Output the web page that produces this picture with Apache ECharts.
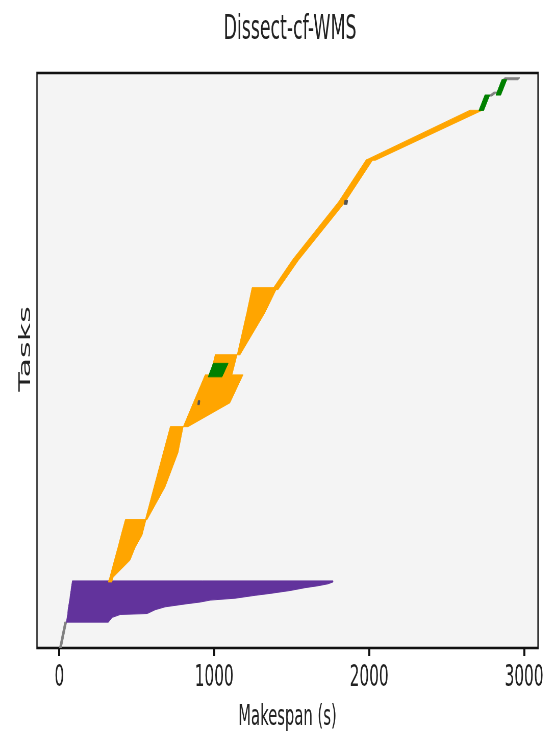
<!DOCTYPE html>
<html>
<head>
<meta charset="utf-8">
<script src="https://cdn.jsdelivr.net/npm/echarts@6/dist/echarts.min.js"></script>
<style>
  html, body { margin: 0; padding: 0; overflow: hidden; background: #ffffff; }
  #wrap { width: 555px; height: 731px; overflow: hidden; position: relative; }
  #chart { width: 1088px; height: 731px; transform: scaleX(0.5101); transform-origin: 0 0; position: absolute; left: 0; top: 0; }
</style>
</head>
<body>
<div id="wrap"><div id="chart"></div></div>
<script>
// Each block is a group of consecutive tasks: rows of [taskIndex, startTime(s), endTime(s)]
const xTicks = [0, 1000, 2000, 3000];

const greyBlocks = [
  [[0, 0, 14], [27, 34, 48]],
  [[576, 2772, 2792], [580, 2805, 2824]],
  [[593, 2863, 2960], [595, 2876, 2972]]
];

const purpleBlocks = [
  [[27, 45, 316], [32, 50, 342], [35, 53, 393], [36, 54, 567], [40, 56, 619], [43, 59, 683],
   [46, 62, 812], [48, 64, 909], [50, 66, 974], [52, 68, 1135], [55, 70, 1264], [57, 72, 1360],
   [60, 75, 1489], [63, 77, 1586], [65, 79, 1670], [67, 81, 1734], [69, 83, 1767], [70, 84, 1767]]
];

const orangeBlocks = [
  [[69, 316, 340], [74, 326, 348], [92, 356, 458], [105, 378, 490], [118, 399, 535], [130, 419, 554], [134, 426, 560]],
  [[134, 555, 567], [168, 611, 683], [204, 671, 767], [231, 716, 800]],
  [[231, 800, 830], [256, 865, 1102], [285, 941, 1186]],
  [[285, 974, 1115], [306, 1006, 1148]],
  [[306, 1148, 1167], [350, 1210, 1328], [376, 1244, 1406]],
  [[374, 1375, 1412], [405, 1505, 1545], [465, 1800, 1843], [509, 1979, 2022]],
  [[509, 1979, 2040], [561, 2650, 2727]]
];

const darkBlocks = [
  [[254, 893, 905], [258, 896, 908]],
  [[463, 1838, 1858], [467, 1842, 1862]]
];

const greenBlocks = [
  [[283, 961, 1051], [297, 993, 1090]],
  [[561, 2708, 2740], [577, 2747, 2779]],
  [[577, 2818, 2850], [593, 2856, 2889]]
];

const FONT = 'DejaVu Sans';

function stageSeries(name, color, blocks) {
  return {
    type: 'custom',
    name: name,
    coordinateSystem: 'cartesian2d',
    data: blocks.map((b, i) => [b[0][1], b[0][0], i]),
    encode: { x: 0, y: 1 },
    clip: true,
    silent: true,
    renderItem: function (params, api) {
      const rows = blocks[api.value(2)];
      const left = rows.map(r => api.coord([r[1], r[0]]));
      const right = rows.slice().reverse().map(r => api.coord([r[2], r[0]]));
      return {
        type: 'polygon',
        shape: { points: left.concat(right) },
        style: { fill: color, stroke: color, lineWidth: 1 }
      };
    }
  };
}

const chart = echarts.init(document.getElementById('chart'), null, { width: 1088, height: 731 });
chart.setOption({
  animation: false,
  backgroundColor: '#ffffff',
  title: {
    text: 'Dissect-cf-WMS',
    left: 563.6,
    textAlign: 'center',
    top: 8,
    textStyle: { fontFamily: FONT, fontSize: 34, fontWeight: 'normal', color: '#222' }
  },
  grid: {
    left: 72.5, top: 73, width: 982.2, height: 575,
    outerBoundsMode: 'none',
    containLabel: false,
    show: true, backgroundColor: '#f4f4f4', borderColor: '#111', borderWidth: 2.5
  },
  xAxis: {
    type: 'value',
    min: -144, max: 3090,
    axisLine: { show: false },
    splitLine: { show: false },
    axisTick: { show: true, length: 8, customValues: xTicks, lineStyle: { color: '#111', width: 4 } },
    axisLabel: {
      customValues: xTicks, formatter: v => String(v),
      fontFamily: FONT, fontSize: 30, color: '#222', margin: 15
    },
    name: 'Makespan (s)',
    nameLocation: 'middle',
    nameGap: 55,
    nameTextStyle: { fontFamily: FONT, fontSize: 29, color: '#222' }
  },
  yAxis: {
    type: 'value',
    min: 0, max: 600,
    axisLine: { show: false },
    axisTick: { show: false },
    axisLabel: { show: false },
    splitLine: { show: false },
    name: 'Tasks',
    nameLocation: 'middle',
    nameGap: 6,
    nameTextStyle: { fontFamily: FONT, fontSize: 32, color: '#222', padding: [0, 0, 0, 23] }
  },
  series: [
    stageSeries('grey', '#808080', greyBlocks),
    stageSeries('purple', '#62339c', purpleBlocks),
    stageSeries('orange', '#ffa500', orangeBlocks),
    stageSeries('dark', '#555555', darkBlocks),
    stageSeries('green', '#008000', greenBlocks)
  ]
});
</script>
</body>
</html>
